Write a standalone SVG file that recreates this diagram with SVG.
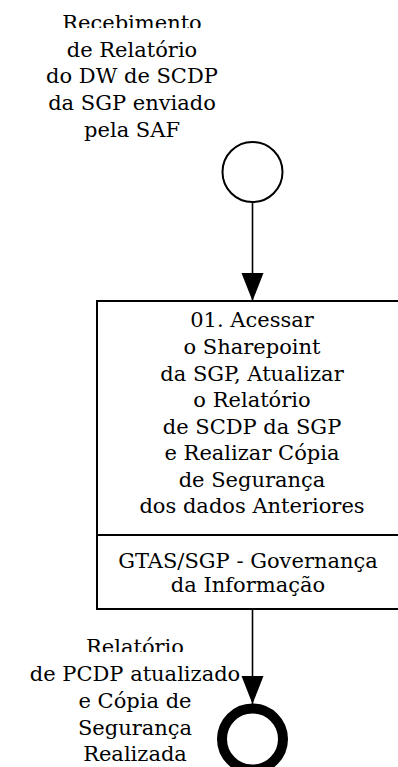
<svg xmlns="http://www.w3.org/2000/svg" width="398" height="767" viewBox="0 0 398 767">
<style>
.t{font-family:"DejaVu Serif","Liberation Serif",serif;font-size:21px;fill:#000;text-anchor:middle}
.ln{stroke:#000;stroke-width:1.6;fill:none}
</style>
<defs>
<marker id="ah" markerUnits="userSpaceOnUse" markerWidth="30" markerHeight="24" refX="28" refY="11" orient="auto">
<path d="M0,0 L28,11 L0,22 Z" fill="#000"/>
</marker>
<clipPath id="c1"><rect x="0" y="0" width="398" height="28"/></clipPath>
<clipPath id="c2"><rect x="0" y="620" width="398" height="32"/></clipPath>
</defs>
<rect width="398" height="767" fill="#fff"/>
<g id="connectors">
<line class="ln" x1="252.5" y1="202" x2="252.5" y2="301" marker-end="url(#ah)"/>
<line class="ln" x1="252.5" y1="609" x2="252.5" y2="704" marker-end="url(#ah)"/>
</g>
<g id="start">
<circle cx="252.5" cy="172" r="30" fill="#fff" stroke="#000" stroke-width="2"/>
<text class="t" x="132" y="30" clip-path="url(#c1)">Recebimento</text>
<text class="t" x="132" y="56.7">de Relatório</text>
<text class="t" x="132" y="83.3">do DW de SCDP</text>
<text class="t" x="132" y="110">da SGP enviado</text>
<text class="t" x="132" y="136.7">pela SAF</text>
</g>
<g id="task01">
<rect x="97" y="301" width="320" height="308" fill="#fff" stroke="#000" stroke-width="2"/>
<line x1="97" y1="535" x2="417" y2="535" stroke="#000" stroke-width="2"/>
<text class="t" x="252" y="327">01. Acessar</text>
<text class="t" x="252" y="354">o Sharepoint</text>
<text class="t" x="252" y="380.5">da SGP, Atualizar</text>
<text class="t" x="252" y="407">o Relatório</text>
<text class="t" x="252" y="433.5">de SCDP da SGP</text>
<text class="t" x="252" y="460">e Realizar Cópia</text>
<text class="t" x="252" y="486.5">de Segurança</text>
<text class="t" x="252" y="513">dos dados Anteriores</text>
<text class="t" x="248" y="567.5">GTAS/SGP - Governança</text>
<text class="t" x="248" y="592">da Informação</text>
</g>
<g id="end">
<circle cx="252.5" cy="739" r="30.5" fill="#fff" stroke="#000" stroke-width="10"/>
<text class="t" x="135" y="654" clip-path="url(#c2)">Relatório</text>
<text class="t" x="135" y="681">de PCDP atualizado</text>
<text class="t" x="135" y="708">e Cópia de</text>
<text class="t" x="135" y="734.5">Segurança</text>
<text class="t" x="135" y="761">Realizada</text>
</g>
</svg>
